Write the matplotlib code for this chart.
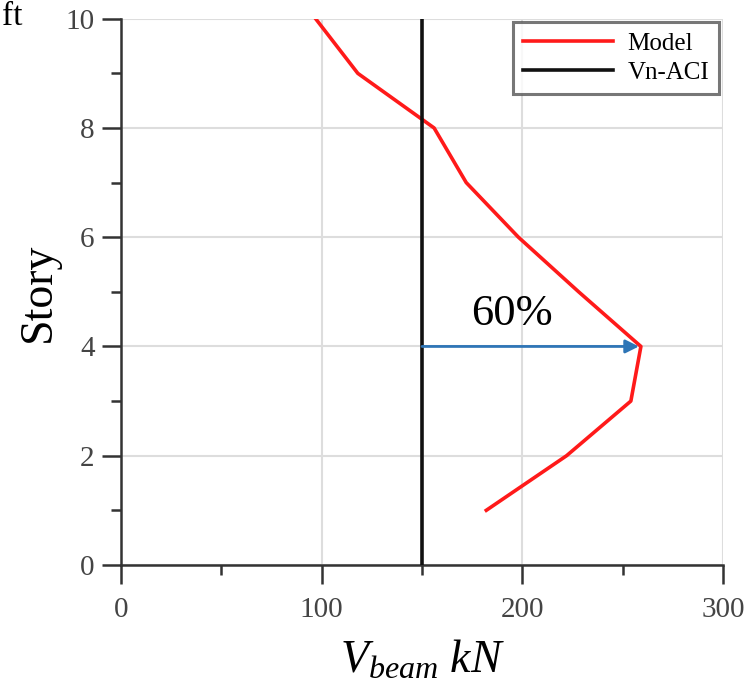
import matplotlib.pyplot as plt
from matplotlib.ticker import MultipleLocator

# data
story = [10, 9, 8, 7, 6, 5, 4, 3, 2, 1]
v_model = [97, 118, 156, 172, 198, 228, 259, 254, 222, 182]
vn_aci = 150
vn_story = [0, 10]
peak_story = 4
peak_v = 259
label_pct = "60%"

plt.rcParams['font.family'] = ['Liberation Serif', 'DejaVu Serif']
plt.rcParams['mathtext.fontset'] = 'custom'
plt.rcParams['mathtext.it'] = 'Liberation Serif:italic'
plt.rcParams['mathtext.rm'] = 'Liberation Serif'

fig = plt.figure(figsize=(7.51, 6.94), dpi=100)
ax = fig.add_axes([0.161, 0.186, 0.802, 0.787])

ax.plot(v_model, story, color='#ff1a1a', lw=2.6, label='Model', zorder=3)
ax.plot([vn_aci, vn_aci], vn_story, color='#111111', lw=2.6, label='Vn-ACI', zorder=3)

ax.annotate('', xy=(peak_v - 1, peak_story), xytext=(vn_aci, peak_story),
            arrowprops=dict(arrowstyle='-|>', color='#2e75b6', lw=2.0,
                            mutation_scale=20, shrinkA=0, shrinkB=0), zorder=4)
ax.text(195, peak_story + 0.22, label_pct, fontsize=32, ha='center', va='bottom')

ax.set_xlim(0, 300)
ax.set_ylim(0, 10)
ax.xaxis.set_major_locator(MultipleLocator(100))
ax.xaxis.set_minor_locator(MultipleLocator(50))
ax.yaxis.set_major_locator(MultipleLocator(2))
ax.yaxis.set_minor_locator(MultipleLocator(1))
ax.grid(True, which='major', color='#dddddd', lw=1.5, zorder=0)

for s in ['top', 'right']:
    ax.spines[s].set_visible(False)
for s in ['left', 'bottom']:
    ax.spines[s].set_linewidth(1.8)
    ax.spines[s].set_color('#333333')

ax.tick_params(which='major', direction='out', length=14, width=1.8, color='#333333',
               labelsize=21, labelcolor='#444444')
ax.tick_params(axis='x', which='major', pad=9)
ax.tick_params(axis='y', which='major', pad=5)
ax.tick_params(which='minor', direction='out', length=7, width=1.8, color='#333333')

ax.set_ylabel('Story', fontsize=33, labelpad=4)
ax.set_xlabel(r'$V_{beam}\ kN$', fontsize=33, labelpad=12)

leg = ax.legend(loc='upper right', fontsize=18, handlelength=3.6, frameon=True,
                fancybox=False, borderaxespad=0.15, borderpad=0.4, labelspacing=0.25,
                handletextpad=0.6)
leg.get_frame().set_edgecolor('#555555')
leg.get_frame().set_linewidth(2.2)

fig.text(0.003, 0.998, 'ft', fontsize=24, ha='left', va='top')

fig.savefig('out.png', dpi=100)
